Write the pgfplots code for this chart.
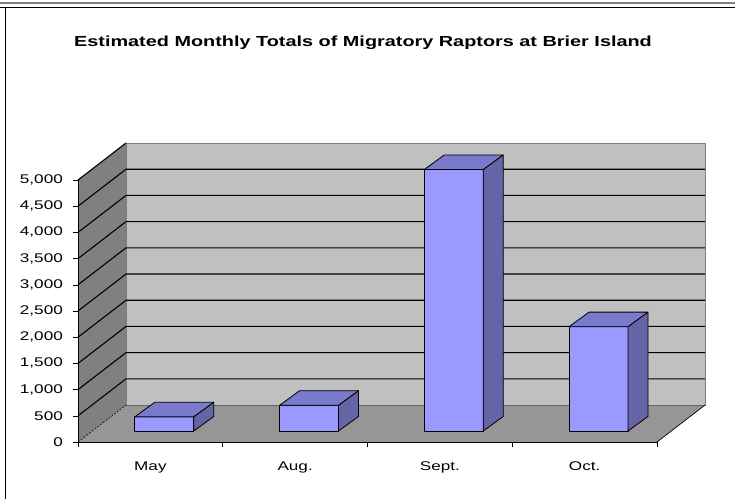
\documentclass[border=0pt]{standalone}
\usepackage{pgfplots}
\pgfplotsset{compat=1.18}
\usepackage{fontspec}
\setmainfont{Liberation Sans}[FakeStretch=1.36]
\definecolor{backwall}{RGB}{192,192,192}
\definecolor{floorc}{RGB}{150,150,150}
\definecolor{leftwall}{RGB}{128,128,128}
\definecolor{barfront}{RGB}{153,153,255}
\definecolor{bartop}{RGB}{122,122,204}
\definecolor{barside}{RGB}{100,100,166}
\begin{document}
\begin{tikzpicture}
\useasboundingbox (0pt,0pt) rectangle (735pt,499pt);
\draw[line width=1.2pt, gray] (0pt,496pt) -- (735pt,496pt);
\draw[line width=1.5pt] (0pt,491.5pt) -- (735pt,491.5pt);
\draw[line width=1.5pt] (5.5pt,0pt) -- (5.5pt,491.5pt);
\node[font=\fontsize{14.6}{17}\selectfont\bfseries] at (363pt,456pt) {Estimated Monthly Totals of Migratory Raptors at Brier Island};
\begin{axis}[
  at={(150.4pt,57pt)}, anchor=origin,
  x=144.75pt, y=0.0524pt,
  xmin=-0.5, xmax=3.5, ymin=0, ymax=5000,
  clip=false,
  axis on top,
  axis lines*=left,
  axis line style={-, black, line width=0.8pt},
  xtick={0,1,2,3}, xticklabels={May,Aug.,Sept.,Oct.},
  minor xtick={-0.5,0.5,1.5,2.5,3.5},
  ytick={0,500,...,5000},
  scaled y ticks=false,
  tick align=outside,
  major tick length=5pt, minor tick length=5pt,
  major x tick style={draw=none},
  every tick/.style={black, line width=0.6pt},
  minor x tick style={black, line width=0.6pt},
  tick label style={font=\fontsize{12.6}{14}\selectfont},
  /pgf/number format/assume math mode=true,
  /pgf/number format/1000 sep={,},
  yticklabel style={anchor=east, inner sep=0pt, xshift=-10pt},
  xticklabel style={anchor=north, inner sep=0pt, yshift=-14.7pt},
]
% walls and floor
\fill[leftwall] (axis cs:-0.5,0) -- (axis cs:-0.5,5000) -- (axis cs:-0.1684,5706) -- (axis cs:-0.1684,706) -- cycle;
\fill[floorc] (axis cs:-0.5,0) -- (axis cs:3.5,0) -- (axis cs:3.8316,706) -- (axis cs:-0.1684,706) -- cycle;
\filldraw[fill=backwall, draw=leftwall, line width=0.6pt] (axis cs:-0.1684,706) -- (axis cs:-0.1684,5706) -- (axis cs:3.8316,5706) -- (axis cs:3.8316,706) -- cycle;
\draw[black!60, line width=0.5pt] (axis cs:-0.1684,706) -- (axis cs:3.8316,706);
\draw[black, line width=0.7pt] (axis cs:3.5,0) -- (axis cs:3.8316,706);
\draw[black, dashed, line width=0.6pt, dash pattern=on 2pt off 1.5pt] (axis cs:-0.5,0) -- (axis cs:-0.1684,706);
% gridlines
\draw[black, line width=1.1pt] (axis cs:-0.5,500) -- (axis cs:-0.1684,1206) -- (axis cs:3.8316,1206);
\draw[black, line width=1.1pt] (axis cs:-0.5,1000) -- (axis cs:-0.1684,1706) -- (axis cs:3.8316,1706);
\draw[black, line width=1.1pt] (axis cs:-0.5,1500) -- (axis cs:-0.1684,2206) -- (axis cs:3.8316,2206);
\draw[black, line width=1.1pt] (axis cs:-0.5,2000) -- (axis cs:-0.1684,2706) -- (axis cs:3.8316,2706);
\draw[black, line width=1.1pt] (axis cs:-0.5,2500) -- (axis cs:-0.1684,3206) -- (axis cs:3.8316,3206);
\draw[black, line width=1.1pt] (axis cs:-0.5,3000) -- (axis cs:-0.1684,3706) -- (axis cs:3.8316,3706);
\draw[black, line width=1.1pt] (axis cs:-0.5,3500) -- (axis cs:-0.1684,4206) -- (axis cs:3.8316,4206);
\draw[black, line width=1.1pt] (axis cs:-0.5,4000) -- (axis cs:-0.1684,4706) -- (axis cs:3.8316,4706);
\draw[black, line width=1.1pt] (axis cs:-0.5,4500) -- (axis cs:-0.1684,5206) -- (axis cs:3.8316,5206);
\draw[black, line width=1.1pt] (axis cs:-0.5,5000) -- (axis cs:-0.1684,5706);
% bars (3-D boxes drawn from the data values)
\addplot[scatter, only marks, mark=*, mark size=0pt,
  mark options={draw=barfront, fill=barfront},
  visualization depends on={rawy \as \val},
  scatter/@pre marker code/.code={%
    \pgfmathsetmacro\b{11-0.0524*\val}%
    \pgfmathsetmacro\bb{\b+14.6}%
    \filldraw[fill=barfront, draw=black, line width=0.8pt, line join=round] (-15.6pt,\b pt) rectangle (43.4pt,11pt);
    \filldraw[fill=bartop, draw=black, line width=0.8pt, line join=round] (-15.6pt,11pt) -- (43.4pt,11pt) -- (63.4pt,25.6pt) -- (4.4pt,25.6pt) -- cycle;
    \filldraw[fill=barside, draw=black, line width=0.8pt, line join=round] (43.4pt,\b pt) -- (43.4pt,11pt) -- (63.4pt,25.6pt) -- (63.4pt,\bb pt) -- cycle;
  },
  scatter/@post marker code/.code={},
] table[x=x, y=v] {
x v
0 270
1 490
2 4990
3 1990
};
\end{axis}
\end{tikzpicture}
\end{document}
